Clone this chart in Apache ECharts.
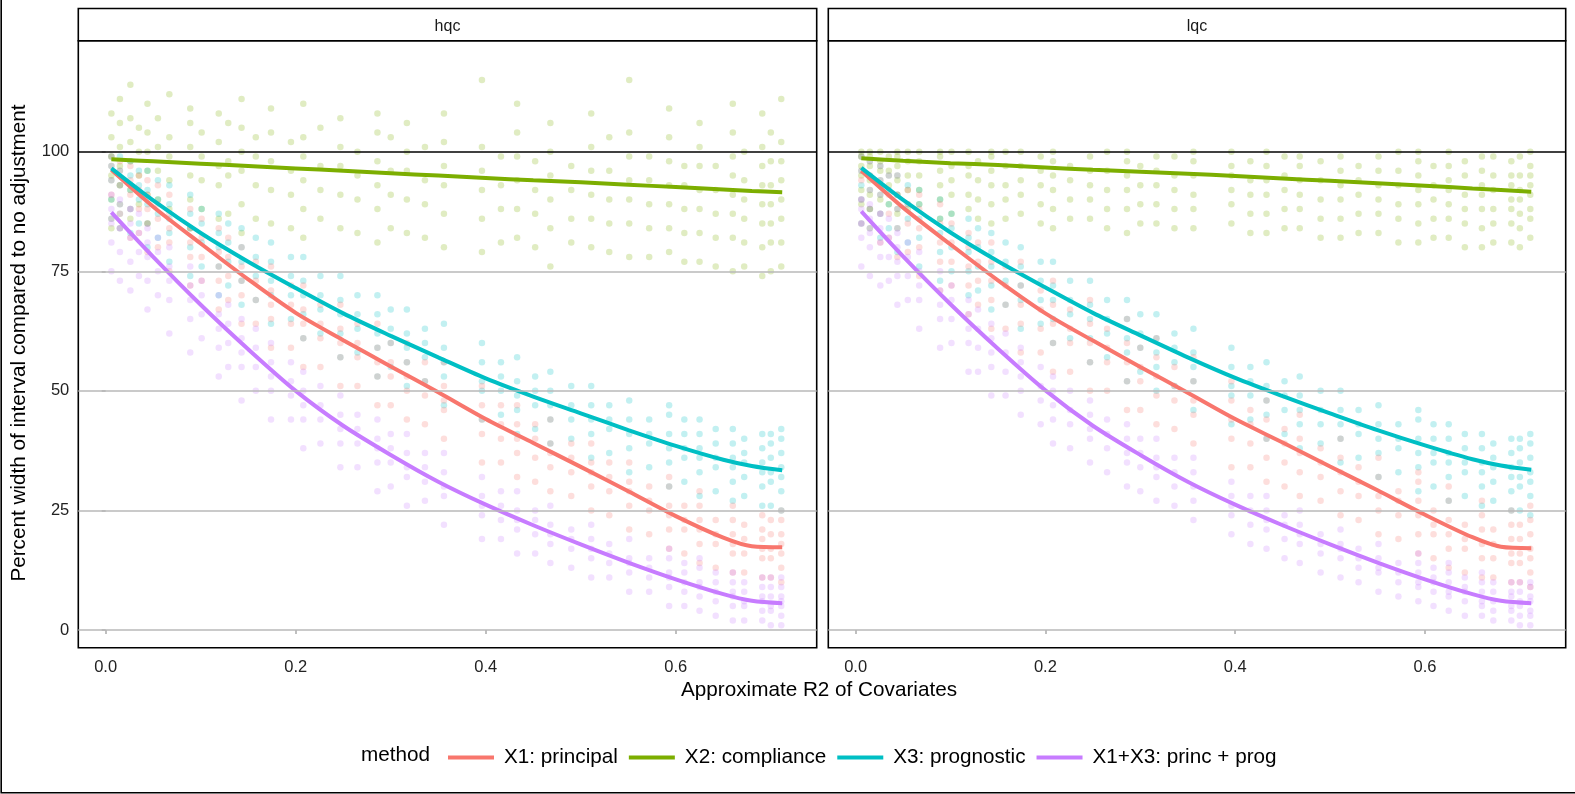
<!DOCTYPE html>
<html lang="en">
<head>
<meta charset="UTF-8">
<title>Percent width of interval by R2</title>
<script src="https://cdn.jsdelivr.net/npm/echarts@6/dist/echarts.min.js"></script>
</head>
<body style="margin:0;background:#fff">
<div id="main" style="width:1575px;height:794px"></div>
<script>
const facets = ['hqc', 'lqc'];
const methods = ['X1: principal', 'X2: compliance', 'X3: prognostic', 'X1+X3: princ + prog'];
const colors = ['#F8766D', '#7CAE00', '#00BFC4', '#C77CFF'];
const xTicks = [0, 0.2, 0.4, 0.6];
const yTicks = [0, 25, 50, 75, 100];

// simulation settings (approximate R2), one column of points each
const xCols = [0.006, 0.015, 0.026, 0.035, 0.044, 0.055, 0.067, 0.089, 0.101, 0.119, 0.129, 0.143,
  0.158, 0.174, 0.195, 0.208, 0.226, 0.247, 0.265, 0.286, 0.300, 0.317, 0.336, 0.356, 0.396, 0.416,
  0.433, 0.452, 0.468, 0.490, 0.511, 0.530, 0.551, 0.572, 0.593, 0.609, 0.625, 0.642, 0.660, 0.672,
  0.691, 0.700, 0.711];

// ---- hqc points, one list of y values per column ----
const hqcPrincipal = [
  [86,91,94,97,99],[84,89,93,96,98],[82,88,91,94,97],[83,88,92,95],[79,85,88,91,94],
  [80,86,89,93],[75,81,84,87,91],[72,78,81,84,88],[73,78,82,86],[67,73,76,79,84],
  [69,74,78,82],[64,70,73,76,80],[64,69,73,77],[59,65,68,71,76],[59,64,68,72],
  [55,61,64,67,72],[55,61,64,68],[51,57,60,63,68],[51,57,60,64],[47,53,56,59,64],
  [47,53,56,60],[44,50,53,56,60],[43,49,52,56],[40,46,48,51,56],[35,41,44,47,51],
  [35,40,43,47],[32,37,40,43,47],[31,36,40,43],[29,34,37,39,44],[28,33,36,39],
  [25,30,33,35,39],[24,29,32,35],[21,26,29,31,35],[20,25,27,30],[17,21,24,26,30,32],
  [16,21,23,26],[14,18,21,23,26,29],[13,18,20,23],[12,16,18,20,23,26],[12,16,19,22],
  [11,15,17,19,21,24],[11,15,17,20,23],[10,13,16,18,20,23,25]
];
const hqcCompliance = [
  [84,90,95,99,103,108],[87,93,97,101,106,111],[86,92,98,102,107,114],[89,95,100,105],
  [85,91,96,100,104,110],[90,96,101,107],[88,94,99,103,112],[84,90,95,101,106,109],
  [88,94,99,104],[86,93,97,102,108],[87,95,98,106],[83,89,96,100,105,111],
  [86,93,99,103],[85,92,98,104,109],[84,91,96,102],[82,88,94,99,103,110],
  [86,92,97,105],[84,91,97,101,107],[83,90,95,100],[81,88,93,98,104,108],
  [84,91,96,103],[83,90,96,100,106],[82,89,94,101],[80,87,93,97,102,108],
  [79,86,92,96,101,115],[81,88,93,99],[82,88,94,99,104,110],[80,87,92,98],
  [76,84,90,95,100,106],[81,86,92,97],[80,86,91,96,101,108],[79,85,90,96,103],
  [78,85,90,94,99,104,115],[78,84,89,94,99],[79,84,89,93,98,103,109],[77,83,88,93,97],
  [77,83,88,92,97,101,106],[76,82,87,92,97],[75,82,87,91,95,99,104,110],[76,81,86,90,94,100],
  [74,80,85,89,93,97,101,108],[75,81,85,89,93,98,104],[76,81,86,90,94,98,102,111]
];
const hqcPrognostic = [
  [86,90,94,97,99],[84,89,93,96,99],[83,88,92,95,98],[85,90,93,96],[80,85,89,92,96],
  [82,87,90,94],[77,83,86,89,93],[74,80,84,87,91],[76,81,85,88],[70,76,80,83,87],
  [72,77,81,85],[68,73,77,80,84],[69,74,78,82],[64,70,73,77,81],[65,70,74,78],
  [61,66,70,73,78],[62,67,70,74],[57,62,66,69,74],[58,63,66,70],[53,59,62,66,70],
  [55,60,63,67],[51,56,59,62,67],[52,57,60,63],[47,53,56,59,64],[44,50,52,56,60],
  [45,50,53,56],[41,46,49,52,57],[42,47,50,53],[39,44,47,50,54],[40,44,47,51],
  [36,41,44,47,51],[37,42,44,47],[33,38,41,44,48],[34,39,41,44],[30,35,38,41,45,47],
  [31,36,38,41,44],[28,33,36,38,41,44],[29,34,36,39,42],[27,31,34,36,39,42],[28,32,35,37,40],
  [26,30,33,35,38,41],[26,31,33,36,39,41],[25,29,32,34,37,40,42]
];
const hqcPrincProg = [
  [75,81,85,88,91],[73,79,84,87,90],[71,77,82,85,88],[74,79,83,87],[67,73,78,81,84],
  [70,75,79,82],[62,69,73,76,80],[58,65,69,72,76],[61,66,70,73],[53,59,63,66,70],
  [55,60,64,68],[48,55,58,61,65],[50,55,59,63],[44,50,53,56,60],[44,49,52,56],
  [38,44,47,50,54],[39,44,47,51],[34,39,42,45,49],[34,39,42,45],[29,35,38,40,44],
  [30,35,38,41],[26,32,34,37,41],[27,31,34,37],[22,28,30,33,37],[19,24,26,28,32],
  [19,23,26,29],[16,21,23,25,29],[16,20,23,25],[14,18,20,22,26],[13,17,19,21],
  [11,15,17,19,22],[11,14,16,18],[8,12,14,15,19],[8,11,13,15],[5,9,11,12,15,17],
  [5,8,10,12,14],[4,7,9,10,13,15],[3,6,8,10,12],[2,5,7,8,10,12],[2,5,6,8,10],
  [2,4,6,7,9,11],[1,4,5,7,9,11],[1,3,5,6,7,9,11]
];

// ---- lqc points ----
const lqcPrincipal = [
  [85,90,94,96,99],[84,88,92,95,98],[81,87,91,94,97],[82,87,91,95],[78,84,88,91,95],
  [79,85,89,92],[74,80,84,88,91],[71,77,81,85,89],[72,77,81,85],[66,72,76,80,83],
  [68,73,77,81],[63,69,73,77,81],[63,68,72,76],[58,64,68,72,77],[58,63,67,71],
  [54,60,64,68,73],[54,60,63,67],[50,56,60,64,69],[50,56,59,63],[46,52,56,60,65],
  [46,52,55,59],[43,49,53,57,61],[42,48,51,55],[39,45,48,52,57],[34,40,44,48,52],
  [34,39,43,46],[31,36,40,44,48],[30,35,39,42],[28,33,37,40,45],[27,32,35,38],
  [24,29,33,36,40],[23,28,31,34],[20,25,28,32,36],[19,24,27,29],[16,20,24,27,31,33],
  [15,20,22,25],[13,17,20,23,27,30],[12,17,19,22],[11,15,18,21,24,27],[11,15,18,21],
  [10,14,16,19,22,25],[10,14,16,19,22],[9,12,15,17,20,23,26]
];
const lqcCompliance = [
  [89,92,95,97,99,100],[88,91,94,97,99,100],[90,93,96,98,100],[89,93,96,99],
  [87,91,94,97,99,100],[88,92,95,98,100],[89,92,95,98,100],[86,90,93,96,99,100],
  [87,91,94,97,100],[88,91,95,97,100],[86,90,94,98],[85,89,93,96,99,100],
  [86,90,93,97,100],[87,91,94,97,100],[85,89,93,96,99],[84,88,92,95,98,100],
  [86,90,94,97],[86,90,93,96,99],[84,88,92,96,100],[83,88,92,95,98,100],
  [85,89,93,97],[85,89,93,96,99],[84,88,92,95,99],[84,88,91,95,98,100],
  [85,89,92,95,97,100],[83,87,91,94,98],[83,87,91,94,97,100],[84,88,92,95,99],
  [84,88,91,94,97,99],[82,86,90,94,98],[82,86,90,93,96,99],[83,87,91,94,97],
  [83,87,90,93,96,99],[81,86,89,93,96,100],[81,85,89,92,95,98,100],[82,86,90,93,97],
  [82,86,89,92,94,97,100],[80,85,88,91,95,98],[80,84,88,91,93,96,99],[81,85,88,92,95,99],
  [81,85,88,90,93,95,98],[80,84,87,90,92,95,99],[82,86,88,91,93,95,97,100]
];
const lqcPrognostic = [
  [85,90,93,96,99],[84,88,92,95,98],[82,87,91,94,97],[84,89,92,95],[79,84,88,91,95],
  [81,86,89,93],[76,82,86,89,92],[73,79,83,86,90],[75,80,84,87],[70,75,79,82,86],
  [71,76,80,84],[67,72,76,79,83],[68,73,77,81],[63,69,72,76,80],[64,69,73,77],
  [60,65,69,72,77],[61,66,69,73],[56,61,65,68,73],[57,62,65,69],[52,58,61,65,69],
  [54,59,62,66],[50,55,58,61,66],[51,56,59,62],[46,52,55,58,63],[43,49,51,55,59],
  [44,49,52,55],[40,45,48,51,56],[41,46,49,52],[38,43,46,49,53],[39,43,46,50],
  [35,40,43,46,50],[36,41,43,46],[32,37,40,43,47],[33,38,40,43],[29,34,37,40,44,46],
  [30,35,37,40,43],[27,32,35,37,40,43],[28,33,35,38,41],[26,30,33,35,38,41],[27,31,34,36,39],
  [25,29,32,34,37,40],[25,30,32,35,38,40],[24,28,31,33,36,39,41]
];
const lqcPrincProg = [
  [76,82,85,88,90],[74,80,83,86,89],[72,78,81,84,87],[73,78,82,86],[68,74,77,80,83],
  [69,74,78,81],[63,69,72,75,79],[59,65,68,71,75],[60,65,69,72],[54,60,63,66,69],
  [54,59,63,67],[49,55,58,61,64],[49,54,58,62],[45,50,53,56,59],[43,48,51,55],
  [39,44,47,50,53],[38,43,46,50],[35,40,42,45,48],[33,38,41,44],[30,35,37,40,43],
  [29,34,37,40],[27,32,34,36,40],[26,30,33,36],[23,27,30,33,36],[20,24,26,28,31],
  [18,22,25,28],[17,21,23,25,28],[15,19,22,24],[14,18,20,22,25],[12,16,18,20],
  [11,15,17,18,21],[10,13,15,17],[8,12,13,15,18],[7,10,12,14],[6,9,10,12,14,16],
  [5,8,10,11,13],[4,7,8,10,12,14],[3,6,8,9,11],[3,5,6,8,10,12],[2,4,6,8,10],
  [2,4,5,7,8,10],[1,3,5,6,8,10],[1,3,4,6,7,9,10]
];

// ---- smoothed trend lines ----
const lineX = [0.006, 0.05, 0.1, 0.15, 0.2, 0.25, 0.3, 0.35, 0.4, 0.45, 0.5, 0.55, 0.6, 0.65, 0.68, 0.712];
const hqcLinePrincipal  = [96.2, 88.5, 80.8, 73.3, 66.3, 60.6, 55.1, 49.7, 44.1, 39.1, 34.1, 29.0, 23.8, 19.3, 17.5, 17.3];
const hqcLineCompliance = [98.4, 98.0, 97.5, 97.0, 96.5, 96.0, 95.5, 95.0, 94.5, 94.0, 93.6, 93.1, 92.6, 92.1, 91.8, 91.5];
const hqcLinePrognostic = [96.5, 89.8, 83.0, 77.0, 71.5, 66.2, 61.5, 57.0, 52.6, 48.8, 45.3, 41.8, 38.5, 35.6, 34.3, 33.4];
const hqcLinePrincProg  = [87.3, 78.0, 68.0, 58.7, 50.0, 42.7, 36.6, 31.0, 26.2, 21.9, 17.9, 14.1, 10.6, 7.5, 6.1, 5.6];
const lqcLinePrincipal  = [96.0, 88.3, 80.6, 73.1, 66.2, 60.5, 55.0, 49.6, 44.1, 39.2, 34.2, 29.2, 24.1, 19.4, 17.4, 17.1];
const lqcLineCompliance = [98.6, 98.1, 97.6, 97.2, 96.7, 96.2, 95.8, 95.4, 94.9, 94.4, 93.9, 93.4, 92.9, 92.3, 92.0, 91.6];
const lqcLinePrognostic = [96.6, 89.9, 83.1, 77.1, 71.6, 66.3, 61.6, 57.0, 52.7, 48.9, 45.3, 41.8, 38.6, 35.7, 34.4, 33.5];
const lqcLinePrincProg  = [87.5, 78.1, 68.1, 58.8, 50.1, 42.7, 36.6, 31.0, 26.2, 21.9, 17.9, 14.1, 10.6, 7.5, 6.1, 5.6];

const pointSets = [
  [hqcPrincipal, hqcCompliance, hqcPrognostic, hqcPrincProg],
  [lqcPrincipal, lqcCompliance, lqcPrognostic, lqcPrincProg]
];
const lineSets = [
  [hqcLinePrincipal, hqcLineCompliance, hqcLinePrognostic, hqcLinePrincProg],
  [lqcLinePrincipal, lqcLineCompliance, lqcLinePrognostic, lqcLinePrincProg]
];

const FONT = '"Liberation Sans", Arial, Helvetica, sans-serif';
const X_MIN = -0.0288, X_MAX = 0.7483;
const Y_MIN = -3.7, Y_MAX = 123.2;
const panels = [{ left: 78.3, width: 738.4 }, { left: 828.3, width: 737.4 }];
const PANEL_TOP = 40.7, PANEL_H = 607;

function columnPoints(cols) {
  const out = [];
  cols.forEach((ys, i) => ys.forEach(y => out.push([xCols[i], y])));
  return out;
}

const chart = echarts.init(document.getElementById('main'));

const grids = panels.map(p => ({
  left: p.left, top: PANEL_TOP, width: p.width, height: PANEL_H,
  show: true, borderColor: '#000', borderWidth: 1.6, backgroundColor: '#fff',
  containLabel: false
}));

const xAxes = panels.map((p, i) => ({
  type: 'value', gridIndex: i, min: X_MIN, max: X_MAX,
  axisLine: { show: false },
  splitLine: { show: false },
  axisTick: { show: true, customValues: xTicks, length: 4, lineStyle: { color: '#aaa', width: 1.5 } },
  axisLabel: {
    customValues: xTicks, margin: 11, fontSize: 16.5, color: '#222', fontFamily: FONT,
    formatter: v => v.toFixed(1)
  }
}));

const yAxes = panels.map((p, i) => ({
  type: 'value', gridIndex: i, min: Y_MIN, max: Y_MAX,
  axisLine: { show: false },
  splitLine: { show: false },
  axisTick: { show: i === 0, customValues: yTicks, length: 4, lineStyle: { color: '#aaa', width: 1.5 } },
  axisLabel: { show: i === 0, customValues: yTicks, margin: 9, fontSize: 16.5, color: '#222', fontFamily: FONT }
}));

const series = [];
// grid lines + reference line at 100
panels.forEach((p, g) => {
  series.push({
    type: 'scatter', xAxisIndex: g, yAxisIndex: g, data: [], silent: true, z: 1,
    markLine: {
      silent: true, symbol: 'none', label: { show: false }, animation: false,
      data: yTicks.map(v => ({
        yAxis: v,
        lineStyle: v === 100
          ? { color: '#000', width: 1.6, type: 'solid' }
          : { color: '#b8b8b8', width: 1.6, type: 'solid' }
      }))
    }
  });
});
// faint points
const pointOrder = [1, 2, 0, 3];
panels.forEach((p, g) => {
  pointOrder.forEach(m => {
    series.push({
      name: methods[m], type: 'scatter', xAxisIndex: g, yAxisIndex: g, z: 2,
      symbol: 'circle', symbolSize: 6.5,
      itemStyle: { color: colors[m], opacity: 0.24 },
      emphasis: { disabled: true },
      data: columnPoints(pointSets[g][m])
    });
  });
});
// trend lines
panels.forEach((p, g) => {
  methods.forEach((name, m) => {
    series.push({
      name, type: 'line', xAxisIndex: g, yAxisIndex: g, z: 3,
      smooth: 0.3, showSymbol: false, symbol: 'none',
      lineStyle: { color: colors[m], width: 4 },
      itemStyle: { color: colors[m] },
      emphasis: { disabled: true },
      data: lineX.map((x, k) => [x, lineSets[g][m][k]])
    });
  });
});

const graphics = [
  // outer frame
  { type: 'rect', shape: { x: 1.2, y: -5, width: 1600, height: 797.8 },
    style: { fill: 'none', stroke: '#000', lineWidth: 1.6 }, silent: true },
  // y title
  { type: 'text', x: 19, y: 343, rotation: Math.PI / 2,
    style: { text: 'Percent width of interval compared to no adjustment', fontSize: 20.7, fontFamily: FONT,
      fill: '#000', textAlign: 'center', textVerticalAlign: 'middle' } },
  // x title
  { type: 'text', x: 819, y: 690,
    style: { text: 'Approximate R2 of Covariates', fontSize: 20.7, fontFamily: FONT,
      fill: '#000', textAlign: 'center', textVerticalAlign: 'middle' } },
  // legend title
  { type: 'text', x: 361, y: 755,
    style: { text: 'method', fontSize: 20.7, fontFamily: FONT, fill: '#000',
      textAlign: 'left', textVerticalAlign: 'middle' } }
];
panels.forEach((p, g) => {
  graphics.push({ type: 'rect', shape: { x: p.left, y: 8.5, width: p.width, height: PANEL_TOP - 8.5 },
    style: { fill: '#fff', stroke: '#000', lineWidth: 1.6 }, silent: true });
  graphics.push({ type: 'text', x: p.left + p.width / 2, y: 27,
    style: { text: facets[g], fontSize: 16, fontFamily: FONT, fill: '#1a1a1a',
      textAlign: 'center', textVerticalAlign: 'middle' } });
});

chart.setOption({
  animation: false,
  textStyle: { fontFamily: FONT },
  grid: grids,
  xAxis: xAxes,
  yAxis: yAxes,
  legend: {
    left: 443, top: 742, orient: 'horizontal',
    itemWidth: 46, itemHeight: 4, itemGap: 11, icon: 'rect',
    textStyle: { fontSize: 20.7, color: '#000', fontFamily: FONT, padding: [0, 0, 0, 5] },
    data: methods.map((m, i) => ({ name: m, itemStyle: { color: colors[i], opacity: 1 } }))
  },
  graphic: graphics,
  series
});
</script>
</body>
</html>
